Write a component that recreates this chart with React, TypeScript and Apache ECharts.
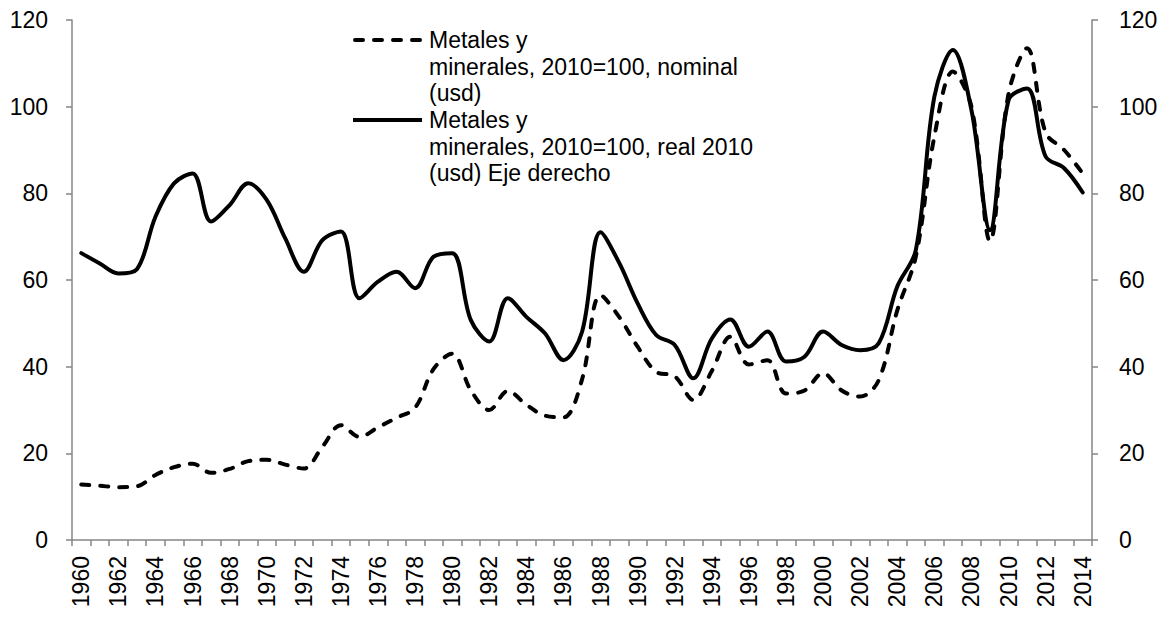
import React, { useEffect, useRef } from "react";
import * as echarts from "echarts";

const years: string[] = [];
for (let y = 1960; y <= 2014; y++) years.push(String(y));

const nominal = [
  12.8, 12.5, 12.2, 12.4, 15.0, 16.8, 17.6, 15.5, 16.4, 18.2,
  18.5, 17.4, 16.5, 21.5, 26.5, 23.8, 26.0, 28.2, 30.5, 39.5,
  43.0, 34.6, 30.0, 34.4, 31.2, 28.7, 28.3, 37.0, 56.5, 51.5,
  44.6, 38.8, 37.8, 32.3, 39.0, 46.9, 40.5, 41.5, 33.8, 34.5,
  38.5, 34.5, 33.1, 36.9, 53.0, 65.4, 93.1, 108.1, 100.0, 69.0,
  103.0, 113.5, 94.0, 90.0, 84.6,
];

const real2010 = [
  66.2, 63.8, 61.5, 62.5, 74.6, 82.3, 84.6, 73.5, 77.3, 82.3,
  78.5, 69.6, 61.9, 69.2, 71.2, 55.8, 59.6, 61.9, 58.1, 65.4,
  66.2, 50.8, 45.8, 55.8, 51.5, 47.7, 41.5, 48.0, 71.0, 64.0,
  54.6, 47.3, 45.0, 37.3, 46.5, 50.9, 44.6, 48.1, 41.2, 42.3,
  48.1, 45.0, 43.8, 45.4, 58.5, 66.9, 102.3, 113.1, 99.2, 71.5,
  101.5, 104.2, 88.5, 85.8, 80.2,
];

const legendNominal = "Metales y\nminerales, 2010=100, nominal\n(usd)";
const legendReal = "Metales y\nminerales, 2010=100, real 2010\n(usd) Eje derecho";

const FONT = "'Liberation Sans', Arial, sans-serif";
const AXIS_COLOR = "#868686";

export default function App() {
  const ref = useRef<HTMLDivElement>(null);
  useEffect(() => {
    if (!ref.current) return;
    const chart = echarts.init(ref.current, undefined, { renderer: "svg" });
    const yAxisCommon = {
      type: "value" as const,
      min: 0,
      max: 120,
      interval: 20,
      splitLine: { show: false },
      axisLine: { show: true, lineStyle: { color: AXIS_COLOR, width: 1.5 } },
      axisTick: { show: true, length: 6, lineStyle: { color: AXIS_COLOR, width: 1.5 } },
    };
    chart.setOption({
      animation: false,
      backgroundColor: "#ffffff",
      textStyle: { fontFamily: FONT },
      grid: { left: 72, right: 71, top: 20, bottom: 77, containLabel: false },
      xAxis: {
        type: "category",
        data: years,
        boundaryGap: true,
        axisLine: { lineStyle: { color: AXIS_COLOR, width: 1.5 } },
        axisTick: { show: true, interval: 0, length: 6, lineStyle: { color: AXIS_COLOR, width: 1.5 } },
        axisLabel: { interval: 1, rotate: 90, margin: 16, color: "#000", fontSize: 23, fontFamily: FONT },
      },
      yAxis: [
        { ...yAxisCommon, position: "left", axisLabel: { color: "#000", fontSize: 23, margin: 24, fontFamily: FONT } },
        { ...yAxisCommon, position: "right", axisLabel: { color: "#000", fontSize: 23, margin: 27, fontFamily: FONT } },
      ],
      series: [
        {
          name: "nominal",
          type: "line",
          data: nominal,
          yAxisIndex: 0,
          smooth: 0.35,
          showSymbol: false,
          lineStyle: { color: "#000", width: 4, type: [8, 11], cap: "round" },
        },
        {
          name: "real",
          type: "line",
          data: real2010,
          yAxisIndex: 1,
          smooth: 0.35,
          showSymbol: false,
          lineStyle: { color: "#000", width: 4, cap: "round" },
        },
      ],
      graphic: [
        {
          type: "line",
          shape: { x1: 355, y1: 40, x2: 421, y2: 40 },
          style: { stroke: "#000", lineWidth: 4, lineDash: [8, 11], lineCap: "round" },
        },
        {
          type: "text",
          x: 429,
          y: 27,
          style: { text: legendNominal, font: `23px ${FONT}`, fill: "#000", lineHeight: 26.5, verticalAlign: "top" },
        },
        {
          type: "line",
          shape: { x1: 353, y1: 120, x2: 422, y2: 120 },
          style: { stroke: "#000", lineWidth: 4 },
        },
        {
          type: "text",
          x: 429,
          y: 107,
          style: { text: legendReal, font: `23px ${FONT}`, fill: "#000", lineHeight: 26.5, verticalAlign: "top" },
        },
      ],
    });
    return () => chart.dispose();
  }, []);
  return <div ref={ref} style={{ position: "fixed", left: 0, top: 0, width: 1163, height: 617 }} />;
}
